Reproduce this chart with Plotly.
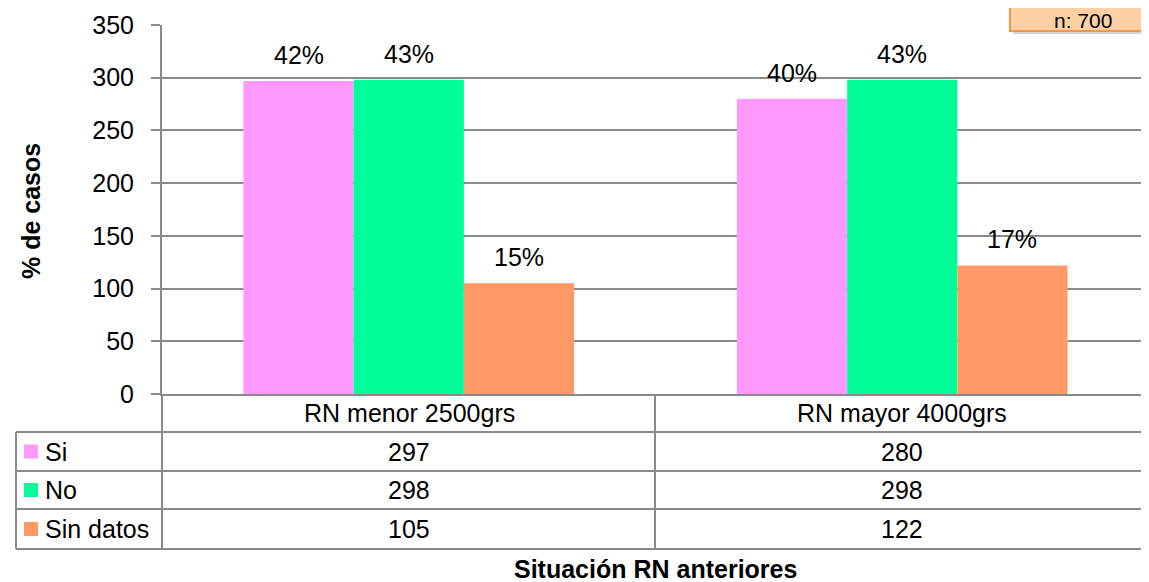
import plotly.graph_objects as go

# datos
categorias = ["RN menor 2500grs", "RN mayor 4000grs"]
series = ["Si", "No", "Sin datos"]
valores_si = [297, 280]
valores_no = [298, 298]
valores_sd = [105, 122]
etiquetas_si = ["42%", "40%"]
etiquetas_no = ["43%", "43%"]
etiquetas_sd = ["15%", "17%"]
ticks_y = [0, 50, 100, 150, 200, 250, 300, 350]
total_n = "n: 700"

colores = ["#FF99FF", "#00FF99", "#FF9966"]
valores = [valores_si, valores_no, valores_sd]
etiquetas = [etiquetas_si, etiquetas_no, etiquetas_sd]

# la pagina deja 8px de margen en el body; se trabaja en coordenadas de pantalla
OFF = 8
W, H = 1149 - OFF, 582 - OFF
L, R, T, B = 162, 1149, 25, 394   # area del grafico (pantalla)
FONT = "Liberation Sans, Arial, sans-serif"
FS = 25
GRIS = "#8A8A8A"


def px(x):
    return (x - L) / (R - L)


def py(y):
    return (B - y) / (B - T)


def texto(x, y, t, **kw):
    kw.setdefault("font", dict(size=FS, color="#000000"))
    kw.setdefault("xanchor", "center")
    fig.add_annotation(xref="paper", yref="paper", x=px(x), y=py(y), text=t,
                       showarrow=False, yanchor="middle", **kw)


fig = go.Figure()
for nombre, vals, col in zip(series, valores, colores):
    fig.add_trace(go.Bar(x=categorias, y=vals, name=nombre, marker_color=col,
                         marker_line_width=0, showlegend=False))

# etiquetas de porcentaje sobre las barras
desplaz = [-110, 0, 110]
for vals, etqs, dx in zip(valores, etiquetas, desplaz):
    for cat, v, t in zip(categorias, vals, etqs):
        fig.add_annotation(x=cat, y=v, text=t, showarrow=False, xshift=dx, yshift=26,
                           xanchor="center", yanchor="middle",
                           font=dict(size=FS, color="#000000"))

shapes = []


def linea(x0, y0, x1, y1):
    shapes.append(dict(type="line", xref="paper", yref="paper", x0=px(x0), y0=py(y0),
                       x1=px(x1), y1=py(y1), line=dict(color=GRIS, width=2)))


# tabla de datos
filas_y = [432, 471, 509, 549]
for yy in filas_y:
    linea(16, yy, 1160, yy)
linea(16, 432, 16, 549)
linea(L, B, L, 549)
linea(655, B, 655, 549)

centros = [409, 902]
for cat, cx in zip(categorias, centros):
    texto(cx, 413, cat)

for i, (nombre, vals, col) in enumerate(zip(series, valores, colores)):
    yc = (filas_y[i] + filas_y[i + 1]) / 2
    shapes.append(dict(type="rect", xref="paper", yref="paper", x0=px(24), x1=px(38),
                       y0=py(yc - 7), y1=py(yc + 7), fillcolor=col, line_width=0))
    texto(43, yc, nombre, xanchor="left")
    for v, cx in zip(vals, centros):
        texto(cx, yc, str(v))

# recuadro n
shapes.append(dict(type="rect", xref="paper", yref="paper", x0=px(1013), x1=px(1170),
                   y0=py(34), y1=py(-40), fillcolor="#A0A0A0", opacity=0.45, line_width=0))
shapes.append(dict(type="rect", xref="paper", yref="paper", x0=px(1010), x1=px(1165),
                   y0=py(31), y1=py(-40), fillcolor="#FFD0A3",
                   line=dict(color="#F79646", width=2)))
texto(1083, 20, total_n, font=dict(size=21, color="#000000"))

# titulos de ejes
texto(31, 211, "<b>% de casos</b>", textangle=-90)
texto(655, 569, "<b>Situación RN anteriores</b>")

fig.update_layout(
    width=W, height=H,
    margin=dict(l=L - OFF, r=0, t=T - OFF, b=H - (B - OFF), pad=0),
    paper_bgcolor="white", plot_bgcolor="white",
    barmode="group", bargap=0.33, bargroupgap=0,
    font=dict(family=FONT, size=FS, color="#000000"),
    shapes=shapes,
    xaxis=dict(showticklabels=False, ticks="", showgrid=False, showline=True,
               linecolor=GRIS, linewidth=2, range=[-0.5, 1.5], fixedrange=True),
    yaxis=dict(range=[0, 350], tickvals=ticks_y, showgrid=True, gridcolor=GRIS,
               gridwidth=1.5, showline=True, linecolor=GRIS, linewidth=2,
               ticks="outside", ticklen=9, tickcolor=GRIS, tickwidth=1.5,
               ticklabelstandoff=12, zeroline=False, tickfont=dict(size=FS)),
)

fig.write_html("out.html")
